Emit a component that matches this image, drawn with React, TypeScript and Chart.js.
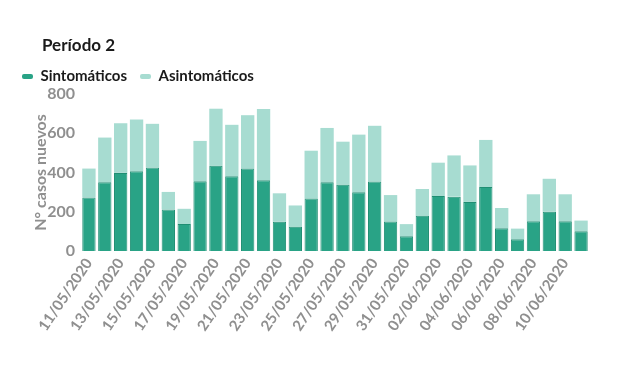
import React, { useEffect, useRef } from "react";
import { Chart, registerables } from "chart.js";

Chart.register(...registerables);

const fechas = [
  "11/05/2020", "12/05/2020", "13/05/2020", "14/05/2020", "15/05/2020", "16/05/2020",
  "17/05/2020", "18/05/2020", "19/05/2020", "20/05/2020", "21/05/2020", "22/05/2020",
  "23/05/2020", "24/05/2020", "25/05/2020", "26/05/2020", "27/05/2020", "28/05/2020",
  "29/05/2020", "30/05/2020", "31/05/2020", "01/06/2020", "02/06/2020", "03/06/2020",
  "04/06/2020", "05/06/2020", "06/06/2020", "07/06/2020", "08/06/2020", "09/06/2020",
  "10/06/2020", "11/06/2020",
];

const sintomaticos = [
  273, 350, 398, 407, 426, 212, 137, 356, 434, 381, 420, 360,
  149, 123, 267, 350, 337, 299, 354, 150, 75, 179, 280, 277,
  250, 326, 116, 60, 152, 200, 152, 101,
];

const asintomaticos = [
  147, 228, 253, 263, 222, 89, 78, 205, 291, 262, 272, 363,
  145, 109, 244, 277, 220, 294, 284, 135, 62, 137, 170, 210,
  186, 240, 103, 54, 137, 168, 137, 54,
];

const yTicks = [0, 200, 400, 600, 800];

const GRAY = "#8f8f8f";
const FONT = "Lato, 'Open Sans', sans-serif";

export default function App() {
  const ref = useRef<HTMLCanvasElement | null>(null);

  useEffect(() => {
    if (!ref.current) return;
    const chart = new Chart(ref.current, {
      type: "bar",
      data: {
        labels: fechas,
        datasets: [
          {
            label: "Sintomáticos",
            data: sintomaticos,
            backgroundColor: "#29a386",
            borderColor: "#1f8e73",
            borderWidth: 1,
            barPercentage: 0.84,
            categoryPercentage: 1,
          },
          {
            label: "Asintomáticos",
            data: asintomaticos,
            backgroundColor: "#a7dcd1",
            borderColor: "#a7dcd1",
            borderWidth: 0,
            barPercentage: 0.84,
            categoryPercentage: 1,
          },
        ],
      },
      options: {
        animation: false,
        responsive: false,
        maintainAspectRatio: false,
        layout: { padding: { top: 48, left: 1, right: 23, bottom: 0 } },
        plugins: {
          title: { display: false },
          tooltip: { enabled: false },
          legend: {
            display: true,
            align: "start",
            labels: {
              boxWidth: 11,
              boxHeight: 5,
              useBorderRadius: true,
              borderRadius: 2,
              padding: 13,
              color: "#1a1a1a",
              font: { family: FONT, size: 15, weight: "bold" },
              generateLabels: (c: any) =>
                c.data.datasets.map((d: any, i: number) => ({
                  text: d.label,
                  fillStyle: d.backgroundColor,
                  strokeStyle: d.backgroundColor,
                  lineWidth: 0,
                  fontColor: "#1a1a1a",
                  datasetIndex: i,
                  borderRadius: 2,
                })),
            },
          },
        },
        scales: {
          x: {
            stacked: true,
            grid: { display: false, drawTicks: false },
            border: { display: false },
            afterFit: (s: any) => {
              s.height = 109;
            },
            ticks: {
              autoSkip: false,
              minRotation: 56,
              maxRotation: 56,
              padding: 4,
              color: GRAY,
              font: { family: FONT, size: 15, weight: "bold" },
              callback: (v: any, i: number) => (i % 2 === 0 ? fechas[i] : ""),
            },
          },
          y: {
            stacked: true,
            min: 0,
            max: 800,
            afterFit: (s: any) => {
              s.width = 72;
            },
            afterBuildTicks: (s: any) => {
              s.ticks = yTicks.map((v) => ({ value: v }));
            },
            grid: { display: false, drawTicks: false },
            border: { display: false },
            title: {
              display: true,
              text: "N° casos nuevos",
              color: GRAY,
              padding: { top: 22, bottom: 0 },
              font: { family: FONT, size: 16, weight: "bold" },
            },
            ticks: {
              padding: 6,
              color: GRAY,
              font: { family: FONT, size: 16, weight: "bold" },
            },
          },
        },
      },
    });
    return () => chart.destroy();
  }, []);

  return (
    <div style={{ position: "relative", width: 604, height: 352 }}>
      <div
        style={{
          position: "absolute",
          left: 34,
          top: 27,
          fontFamily: FONT,
          fontWeight: "bold",
          fontSize: 17,
          color: "#1a1a1a",
          lineHeight: "20px",
        }}
      >
        Período 2
      </div>
      <canvas ref={ref} width={604} height={352} style={{ display: "block" }} />
    </div>
  );
}
